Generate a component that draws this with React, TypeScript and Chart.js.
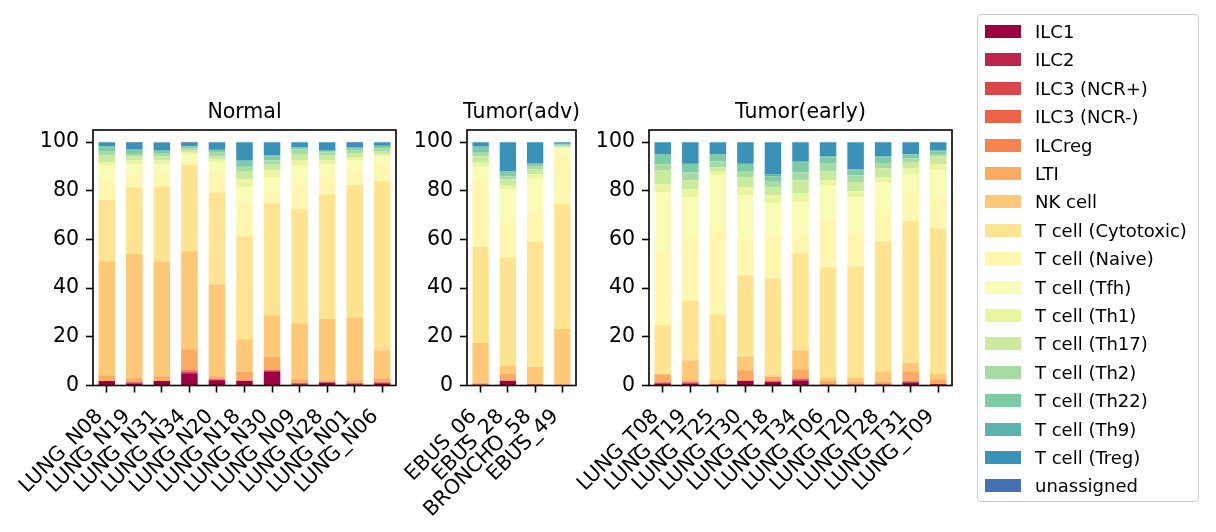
import React, { useEffect, useRef } from "react";
import { Chart, registerables } from "chart.js";

Chart.register(...registerables);

// ---- data ----
const normalSamples = ["LUNG_N08", "LUNG_N19", "LUNG_N31", "LUNG_N34", "LUNG_N20", "LUNG_N18", "LUNG_N30", "LUNG_N09", "LUNG_N28", "LUNG_N01", "LUNG_N06"];
const advSamples = ["EBUS_06", "EBUS_28", "BRONCHO_58", "EBUS_49"];
const earlySamples = ["LUNG_T08", "LUNG_T19", "LUNG_T25", "LUNG_T30", "LUNG_T18", "LUNG_T34", "LUNG_T06", "LUNG_T20", "LUNG_T28", "LUNG_T31", "LUNG_T09"];

const cellTypes = ["ILC1", "ILC2", "ILC3 (NCR+)", "ILC3 (NCR-)", "ILCreg", "LTI", "NK cell", "T cell (Cytotoxic)", "T cell (Naive)", "T cell (Tfh)", "T cell (Th1)", "T cell (Th17)", "T cell (Th2)", "T cell (Th22)", "T cell (Th9)", "T cell (Treg)", "unassigned"];

const cellColors = ["#9e0142", "#be254a", "#db464d", "#ed6246", "#f7844e", "#fcaa5f", "#fec877", "#fee491", "#fff6b0", "#f8fcb4", "#e9f69d", "#caea9e", "#a7dba4", "#7ecca5", "#5ab4ab", "#3b92b9", "#4471b2"];

// values in percent, order: normal (11), adv (4), early (11)
const ILC1 = [1.8, 0.8, 1.8, 5.0, 1.9, 1.8, 5.6, 0.5, 1.1, 0.5, 0.9, 0.2, 1.8, 0.3, 0, 0.8, 0.8, 0.3, 1.8, 1.4, 2.0, 0.2, 0.2, 0.3, 1.2, 0.5];
const ILC2 = [0, 0.4, 0, 0.4, 0.5, 0.2, 0.4, 0.3, 0.2, 0.3, 0.2, 0.1, 0.2, 0.1, 0, 0.3, 0.3, 0.1, 0.1, 0.2, 0.5, 0.1, 0.1, 0.1, 0.3, 0.1];
const ILC3pos = [0, 0, 0.1, 0.4, 0.2, 0, 0.3, 0.2, 0, 0, 0, 0.1, 0, 0, 0, 0, 0, 0, 0, 0, 0.2, 0, 0, 0, 0.2, 0];
const ILC3neg = [0.1, 0.1, 0.1, 0.5, 0.2, 0.1, 0.2, 0.1, 0.2, 0.2, 0.2, 0.2, 0.1, 0.1, 0, 0.1, 0.2, 0.2, 0.2, 0.2, 0.2, 0.2, 0.2, 0.2, 0.1, 0.1];
const ILCreg = [0.1, 0.1, 0.1, 0.1, 0.1, 0.1, 0.1, 0.1, 0.1, 0.1, 0.1, 0.2, 0.1, 0.1, 0, 0.1, 0.1, 0.1, 0.2, 0.4, 0.2, 0.1, 0.2, 0.3, 0.2, 0.1];
const LTI = [2.2, 1.6, 1.7, 8.5, 0.9, 3.3, 5.2, 1.4, 0.6, 1.1, 1.6, 0.3, 2.5, 0.1, 0, 3.2, 0.8, 0.1, 4.0, 1.4, 3.6, 1.2, 0.8, 0.6, 3.5, 1.5];
const NK = [46.9, 51.0, 47.0, 40.3, 37.8, 13.5, 17.1, 23.0, 25.1, 25.5, 11.5, 16.4, 3.4, 7.0, 23.2, 0.4, 8.2, 1.7, 5.5, 0.6, 7.8, 1.5, 1.8, 4.4, 3.8, 2.5];
const Cytotoxic = [25.1, 27.5, 31.1, 35.3, 37.8, 42.3, 46.0, 46.8, 51.3, 54.7, 69.4, 39.5, 44.6, 51.3, 51.3, 19.9, 24.3, 26.8, 33.5, 39.9, 39.9, 45.3, 45.7, 53.4, 58.2, 59.8];
const Naive = [7.9, 5.8, 5.1, 2.1, 8.5, 14.0, 4.8, 10.0, 7.4, 6.1, 7.0, 27.0, 14.8, 12.0, 20.4, 30.8, 27.9, 36.6, 15.6, 17.6, 8.6, 19.7, 14.0, 13.1, 12.0, 13.2];
const Tfh = [6.4, 3.8, 3.9, 2.5, 3.9, 6.2, 5.9, 8.1, 4.9, 4.1, 3.3, 5.9, 13.2, 14.3, 2.5, 23.8, 14.8, 20.5, 17.3, 13.2, 12.3, 14.1, 14.4, 11.1, 7.4, 10.7];
const Th1 = [1.3, 1.5, 1.7, 0.9, 1.2, 3.3, 2.9, 2.1, 1.7, 1.2, 0.9, 1.6, 1.4, 1.5, 0.4, 3.3, 3.3, 1.7, 3.3, 3.3, 3.7, 2.0, 2.4, 2.1, 2.4, 2.4];
const Th17 = [2.8, 1.6, 1.6, 0.7, 1.1, 3.0, 2.3, 2.5, 2.0, 1.7, 1.3, 2.7, 2.7, 2.0, 0.4, 5.8, 3.7, 1.6, 4.1, 3.3, 5.4, 3.7, 3.7, 3.7, 2.5, 3.3];
const Th2 = [1.8, 0.9, 1.3, 0.7, 1.9, 2.1, 1.7, 2.0, 1.3, 1.2, 1.1, 1.4, 1.2, 1.3, 0.4, 2.4, 3.2, 2.5, 2.5, 2.5, 3.2, 3.3, 2.9, 2.1, 1.6, 0.9];
const Th22 = [1.5, 1.7, 0.9, 0.8, 0.8, 2.4, 1.6, 0.6, 0.4, 0.8, 0.9, 2.1, 1.8, 0.9, 0.4, 3.9, 3.4, 2.6, 2.9, 2.0, 4.2, 2.4, 2.1, 2.4, 1.5, 1.2];
const Th9 = [0.4, 0.3, 0.3, 0.1, 0.4, 0.3, 0.4, 0.2, 0.4, 0.4, 0.4, 0.5, 0.3, 0.2, 0.3, 0.3, 0.4, 0.3, 0.4, 0.8, 0.4, 0.4, 0.4, 0.4, 0.2, 0.4];
const Treg = [1.7, 2.6, 3.1, 1.4, 2.8, 7.4, 5.5, 2.1, 3.3, 1.8, 1.2, 1.8, 11.9, 8.8, 0.7, 4.9, 8.6, 4.9, 8.6, 13.2, 7.8, 5.8, 11.1, 5.8, 4.9, 3.3];
const unassigned = [0, 0.3, 0.2, 0.3, 0, 0, 0, 0, 0, 0.3, 0, 0, 0, 0, 0, 0, 0, 0, 0, 0, 0, 0, 0, 0, 0, 0];

const seriesValues = [ILC1, ILC2, ILC3pos, ILC3neg, ILCreg, LTI, NK, Cytotoxic, Naive, Tfh, Th1, Th17, Th2, Th22, Th9, Treg, unassigned];

const yTicks = [0, 20, 40, 60, 80, 100];

// ---- layout ----
const W = 1216;
const H = 532;
const PLOT_TOP = 130;
const PLOT_BOTTOM = 385.5;
const FONT = '"DejaVu Sans", sans-serif';

const panels = [
  { title: "Normal", labels: normalSamples, start: 0, left: 93, right: 396 },
  { title: "Tumor(adv)", labels: advSamples, start: 11, left: 467, right: 576 },
  { title: "Tumor(early)", labels: earlySamples, start: 15, left: 649, right: 952 },
];

const framePlugin = {
  id: "frame",
  afterDraw(chart: any, _args: any, opts: any) {
    const { ctx, chartArea: a } = chart;
    ctx.save();
    ctx.strokeStyle = "#000";
    ctx.lineWidth = 1.6;
    ctx.strokeRect(a.left, a.top, a.right - a.left, a.bottom - a.top);
    ctx.font = `20.5px ${FONT}`;
    ctx.fillStyle = "#000";
    ctx.textAlign = "center";
    ctx.textBaseline = "alphabetic";
    ctx.fillText(opts.text, (a.left + a.right) / 2, a.top - 12.5);
    ctx.restore();
  },
};

function Panel({ p }: { p: (typeof panels)[number] }) {
  const ref = useRef<HTMLCanvasElement>(null);
  useEffect(() => {
    if (!ref.current) return;
    const n = p.labels.length;
    const datasets = cellTypes.map((name, i) => ({
      label: name,
      data: seriesValues[i].slice(p.start, p.start + n),
      backgroundColor: cellColors[i],
      borderWidth: 0,
      barPercentage: 0.6,
      categoryPercentage: 1.0,
    }));
    const chart = new Chart(ref.current, {
      type: "bar",
      data: { labels: p.labels, datasets },
      plugins: [framePlugin as any],
      options: {
        animation: false,
        responsive: false,
        maintainAspectRatio: false,
        layout: { padding: { left: 0, top: PLOT_TOP, right: W - p.right, bottom: 0 } },
        plugins: {
          legend: { display: false },
          tooltip: { enabled: false },
          title: { display: false },
          frame: { text: p.title },
        } as any,
        scales: {
          x: {
            stacked: true,
            offset: true,
            grid: { display: true, drawOnChartArea: false, drawTicks: true, tickLength: 7, tickWidth: 1.6, tickColor: "#000", offset: false },
            border: { display: false },
            ticks: {
              color: "#000",
              font: { family: FONT, size: 20.5 },
              maxRotation: 45,
              minRotation: 45,
              padding: 12,
              labelOffset: -7,
              autoSkip: false,
            },
            afterFit: (s: any) => {
              s.height = H - PLOT_BOTTOM;
            },
          },
          y: {
            stacked: true,
            min: 0,
            max: 105,
            grid: { display: true, drawOnChartArea: false, drawTicks: true, tickLength: 7, tickWidth: 1.6, tickColor: "#000" },
            border: { display: false },
            afterBuildTicks: (s: any) => {
              s.ticks = yTicks.map((v) => ({ value: v }));
            },
            ticks: {
              color: "#000",
              font: { family: FONT, size: 20.5 },
              padding: 7,
            },
            afterFit: (s: any) => {
              s.width = p.left;
            },
          },
        },
      },
    });
    return () => chart.destroy();
  }, [p]);
  return (
    <canvas
      ref={ref}
      width={W}
      height={H}
      style={{ position: "absolute", left: 0, top: 0, width: W, height: H }}
    />
  );
}

function Legend() {
  return (
    <div
      style={{
        position: "absolute",
        left: 977,
        top: 14,
        width: 222,
        height: 488,
        border: "1.5px solid #cccccc",
        borderRadius: 4,
        background: "rgba(255,255,255,0.8)",
        boxSizing: "border-box",
        fontFamily: FONT,
        fontSize: 18,
        color: "#000",
      }}
    >
      {cellTypes.map((name, i) => (
        <div
          key={name}
          style={{
            position: "absolute",
            left: 7,
            top: 16.5 + i * 28.4 - 14,
            height: 28,
            display: "flex",
            alignItems: "center",
            whiteSpace: "nowrap",
          }}
        >
          <span style={{ display: "inline-block", width: 36, height: 13, background: cellColors[i], marginRight: 14 }} />
          <span>{name}</span>
        </div>
      ))}
    </div>
  );
}

export default function App() {
  return (
    <div style={{ position: "absolute", left: 0, top: 0, width: W, height: H, background: "#fff" }}>
      {panels.map((p) => (
        <Panel key={p.title} p={p} />
      ))}
      <Legend />
    </div>
  );
}
